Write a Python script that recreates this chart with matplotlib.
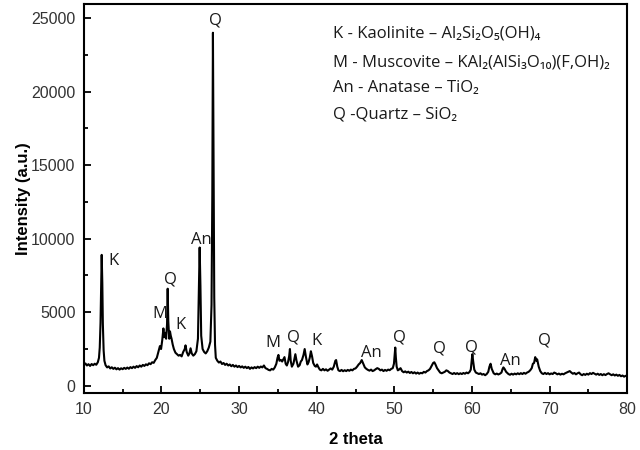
import numpy as np
import matplotlib
matplotlib.use('Agg')
import matplotlib.pyplot as plt
from matplotlib.ticker import MultipleLocator

# XRD pattern (2 theta in degrees, intensity in a.u.)
two_theta = [
    10.0, 10.2, 10.4, 10.6, 10.8, 11.0, 11.2, 11.4, 11.6, 11.8,
    11.95, 12.05, 12.15, 12.25, 12.3, 12.38, 12.45, 12.55, 12.65, 12.8,
    13.0, 13.2, 13.4, 13.6, 13.8, 14.0, 14.2, 14.4, 14.6, 14.8,
    15.0, 15.2, 15.4, 15.6, 15.8, 16.0, 16.2, 16.4, 16.6, 16.8,
    17.0, 17.2, 17.4, 17.6, 17.8, 18.0, 18.2, 18.4, 18.6, 18.8,
    19.0, 19.2, 19.4, 19.6, 19.8, 19.95, 20.1, 20.25, 20.35, 20.5,
    20.6, 20.72, 20.8, 20.88, 21.0, 21.1, 21.2, 21.3, 21.45, 21.6,
    21.8, 22.0, 22.2, 22.4, 22.6, 22.8, 23.0, 23.1, 23.25, 23.45,
    23.6, 23.75, 23.9, 24.1, 24.3, 24.5, 24.7, 24.82, 24.92, 25.02,
    25.12, 25.3, 25.5, 25.7, 25.9, 26.1, 26.3, 26.45, 26.55, 26.63,
    26.72, 26.8, 26.9, 27.0, 27.2, 27.4, 27.6, 27.8, 28.0, 28.2,
    28.4, 28.6, 28.8, 29.0, 29.2, 29.4, 29.6, 29.8, 30.0, 30.2,
    30.4, 30.6, 30.8, 31.0, 31.2, 31.4, 31.6, 31.8, 32.0, 32.2,
    32.4, 32.6, 32.8, 33.0, 33.2, 33.4, 33.6, 33.8, 34.0, 34.2,
    34.4, 34.6, 34.8, 34.95, 35.07, 35.2, 35.4, 35.55, 35.7, 35.85,
    36.0, 36.15, 36.3, 36.45, 36.55, 36.65, 36.8, 37.0, 37.15, 37.25,
    37.4, 37.6, 37.8, 37.95, 38.1, 38.3, 38.45, 38.6, 38.8, 38.95,
    39.1, 39.25, 39.4, 39.55, 39.75, 39.9, 40.05, 40.2, 40.4, 40.6,
    40.8, 41.0, 41.2, 41.4, 41.6, 41.8, 42.0, 42.2, 42.4, 42.5,
    42.65, 42.8, 43.0, 43.2, 43.4, 43.6, 43.8, 44.0, 44.2, 44.4,
    44.6, 44.8, 45.0, 45.2, 45.4, 45.6, 45.8, 46.0, 46.2, 46.4,
    46.6, 46.8, 47.0, 47.2, 47.4, 47.6, 47.8, 48.0, 48.2, 48.4,
    48.6, 48.8, 49.0, 49.2, 49.4, 49.6, 49.8, 49.95, 50.05, 50.12,
    50.2, 50.3, 50.45, 50.6, 50.8, 51.0, 51.2, 51.4, 51.6, 51.8,
    52.0, 52.2, 52.4, 52.6, 52.8, 53.0, 53.2, 53.4, 53.6, 53.8,
    54.0, 54.2, 54.4, 54.6, 54.8, 55.0, 55.15, 55.3, 55.5, 55.7,
    55.9, 56.1, 56.3, 56.5, 56.7, 56.9, 57.1, 57.3, 57.5, 57.7,
    57.9, 58.1, 58.3, 58.5, 58.7, 58.9, 59.1, 59.3, 59.5, 59.7,
    59.85, 59.95, 60.05, 60.15, 60.3, 60.5, 60.7, 60.9, 61.1, 61.3,
    61.5, 61.7, 61.9, 62.1, 62.25, 62.4, 62.55, 62.8, 63.0, 63.2,
    63.4, 63.6, 63.8, 63.95, 64.05, 64.2, 64.4, 64.7, 64.9, 65.1,
    65.3, 65.5, 65.7, 65.9, 66.1, 66.3, 66.5, 66.7, 66.9, 67.1,
    67.3, 67.5, 67.7, 67.85, 68.0, 68.15, 68.3, 68.4, 68.6, 68.8,
    69.0, 69.2, 69.4, 69.6, 69.8, 70.0, 70.2, 70.4, 70.6, 70.8,
    71.0, 71.2, 71.4, 71.6, 71.8, 72.0, 72.2, 72.4, 72.6, 72.8,
    73.0, 73.2, 73.4, 73.6, 73.8, 74.0, 74.2, 74.4, 74.6, 74.8,
    75.0, 75.2, 75.4, 75.6, 75.8, 76.0, 76.2, 76.4, 76.6, 76.8,
    77.0, 77.2, 77.4, 77.6, 77.8, 78.0, 78.2, 78.4, 78.6, 78.8,
    79.0, 79.2, 79.4, 79.6, 79.8, 80.0,
]
intensity = [
    1400, 1520, 1380, 1470, 1350, 1480, 1400, 1500, 1430, 1600,
    1900, 2600, 4300, 7400, 8900, 7000, 4200, 2400, 1700, 1400,
    1250, 1320, 1180, 1260, 1150, 1230, 1120, 1200, 1100, 1190,
    1130, 1220, 1150, 1240, 1160, 1270, 1200, 1300, 1220, 1340,
    1260, 1380, 1300, 1420, 1350, 1460, 1400, 1530, 1470, 1600,
    1560, 1750, 1900, 2300, 2700, 2500, 3100, 3900, 3300, 3600,
    3200, 4200, 6600, 4400, 3200, 3700, 3400, 3200, 2800, 2500,
    2250, 2150, 2050, 2100, 2000, 2300, 2500, 2750, 2300, 2050,
    2200, 2550, 2200, 2050, 2150, 2350, 3200, 6500, 9400, 6800,
    3400, 2500, 2300, 2200, 2350, 2600, 3000, 5500, 13000, 24000,
    14000, 6000, 2800, 1900, 1700, 1580, 1650, 1480, 1550, 1420,
    1500, 1380, 1450, 1330, 1420, 1300, 1380, 1270, 1350, 1250,
    1320, 1220, 1300, 1200, 1280, 1150, 1250, 1180, 1270, 1200,
    1300, 1220, 1310, 1250, 1380, 1200, 1150, 1080, 1050, 1150,
    1100, 1250, 1500, 1900, 2100, 1700, 1750, 1650, 1800, 1950,
    1500, 1380, 1600, 2000, 2500, 1700, 1300, 1500, 1900, 2150,
    1700, 1300, 1400, 1650, 1750, 2100, 2500, 2000, 1450, 1600,
    1900, 2350, 2000, 1550, 1350, 1300, 1450, 1280, 1100, 1050,
    1150, 1050, 1120, 1020, 1100, 1180, 1100, 1300, 1700, 1750,
    1300, 1050, 1000, 1080, 990, 1060, 1000, 1080, 1020, 1100,
    1050, 1150, 1180, 1300, 1450, 1550, 1750, 1500, 1250, 1150,
    1080, 1030, 1100, 1000, 1050, 1130, 1200, 1150, 1050, 1100,
    1000, 1080, 1020, 1100, 1060, 1150, 1200, 1500, 2100, 2600,
    1900, 1300, 1050, 1100, 1200, 1000, 920, 980, 900, 960,
    870, 940, 850, 920, 830, 900, 820, 880, 850, 950,
    900, 1000, 1050, 1150, 1350, 1550, 1600, 1450, 1200, 1050,
    900, 850, 900, 950, 1050, 1000, 900, 850, 800, 870,
    800, 860, 790, 850, 800, 870, 820, 900, 850, 950,
    1100, 1600, 2150, 1700, 1100, 900, 850, 800, 850, 760,
    800, 720, 800, 950, 1300, 1500, 1150, 850, 780, 830,
    770, 820, 900, 1150, 1250, 1150, 950, 800, 750, 820,
    760, 830, 780, 850, 790, 860, 800, 880, 820, 900,
    950, 1050, 1200, 1500, 1550, 1950, 1700, 1800, 1300, 1000,
    850, 800, 880, 800, 860, 780, 840, 800, 900, 850,
    780, 830, 760, 820, 780, 850, 900, 950, 1000, 900,
    820, 870, 780, 850, 900, 780, 720, 800, 740, 820,
    760, 860, 800, 880, 820, 760, 820, 740, 800, 720,
    790, 730, 800, 850, 780, 720, 780, 700, 760, 680,
    740, 650, 700, 620, 680, 650,
]
n = min(len(two_theta), len(intensity))
two_theta = two_theta[:n]
intensity = intensity[:n]

# phase marks above the peaks
peak_labels = ['K', 'M', 'Q', 'K', 'An', 'Q', 'M', 'Q', 'K',
               'An', 'Q', 'Q', 'Q', 'An', 'Q']
peak_x = [13.8, 19.8, 21.1, 22.4, 25.2, 26.9, 34.4, 37.0, 39.95,
          47.1, 50.6, 55.8, 59.9, 64.9, 69.3]
peak_y = [8500, 4850, 7200, 4150, 9900, 24800, 2900, 3250, 3050,
          2250, 3250, 2550, 2600, 1700, 3050]

phase_lines = [
    'K - Kaolinite \u2013 Al\u2082Si\u2082O\u2085(OH)\u2084',
    'M - Muscovite \u2013 KAl\u2082(AlSi\u2083O\u2081\u2080)(F,OH)\u2082',
    'An - Anatase \u2013 TiO\u2082',
    'Q -Quartz \u2013 SiO\u2082',
]
phase_y = [23980, 22010, 20240, 18410]

label_font = ['Open Sans', 'DejaVu Sans']

fig = plt.figure(figsize=(6.4, 4.5), dpi=100)
ax = fig.add_axes([0.131, 0.126, 0.849, 0.865])

ax.plot(two_theta, intensity, color='black', lw=1.5)

for lab, x, y in zip(peak_labels, peak_x, peak_y):
    ax.text(x, y, lab, ha='center', va='center', fontsize=12,
            family=label_font, color='#1a1a1a')

for line, y in zip(phase_lines, phase_y):
    ax.text(42.1, y, line, ha='left', va='center', fontsize=12,
            family=label_font, color='#1a1a1a')

ax.set_xlim(10, 80)
ax.set_ylim(-510, 25950)
ax.xaxis.set_major_locator(MultipleLocator(10))
ax.xaxis.set_minor_locator(MultipleLocator(5))
ax.yaxis.set_major_locator(MultipleLocator(5000))
ax.yaxis.set_minor_locator(MultipleLocator(2500))
ax.tick_params(which='both', direction='in', width=1.3, colors='black',
               labelcolor='#333333', labelsize=11.5, top=False, right=False)
ax.tick_params(which='major', length=5, pad=6)
ax.tick_params(which='minor', length=3)
for lab in ax.get_xticklabels() + ax.get_yticklabels():
    lab.set_family('Liberation Sans')
for s in ax.spines.values():
    s.set_linewidth(1.5)

ax.set_xlabel('2 theta', fontsize=12, fontweight='bold',
              family='Liberation Sans', labelpad=11)
ax.set_ylabel('Intensity (a.u.)', fontsize=12, fontweight='bold',
              family='Liberation Sans', labelpad=0)

fig.savefig('out.png', dpi=100)
